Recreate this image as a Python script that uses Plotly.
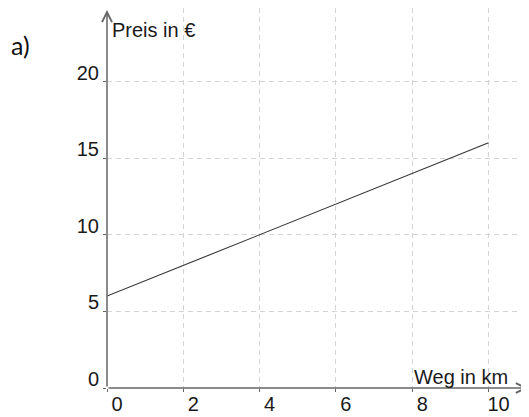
import plotly.graph_objects as go

# Data
weg_km = [0, 10]
preis_eur = [6, 16]
x_ticks = [0, 2, 4, 6, 8, 10]
y_ticks = [0, 5, 10, 15, 20]
x_title = "Weg in km"
y_title = "Preis in €"
panel_label = "a)"

FONT = "Liberation Sans, Arial, sans-serif"
AXIS_COL = "#666666"
GRID_COL = "#d4d4d4"

XMAX = 11.06
YMAX = 24.8

# page body has an 8px margin -> figure is 8px smaller than the window
W, H = 521, 409
ML, MR, MT, MB = 99, 0, 0, 29
PW, PH = W - ML - MR, H - MT - MB

fig = go.Figure()
fig.add_trace(go.Scatter(
    x=weg_km, y=preis_eur, mode="lines",
    line=dict(color="#333333", width=1.1),
    hoverinfo="skip", showlegend=False,
))

fig.update_layout(
    width=W, height=H,
    margin=dict(l=ML, r=MR, t=MT, b=MB, pad=0),
    paper_bgcolor="white", plot_bgcolor="white",
    font=dict(family=FONT, size=20, color="#1a1a1a"),
    xaxis=dict(
        range=[0, XMAX], tickvals=x_ticks, ticktext=[str(v) for v in x_ticks],
        showgrid=True, gridcolor=GRID_COL, griddash="5px,4px", gridwidth=1,
        zeroline=False, showline=False,
        ticks="outside", ticklen=3, tickcolor=AXIS_COL, tickwidth=1,
        ticklabelshift=10, ticklabelstandoff=-5,
        tickfont=dict(family=FONT, size=20, color="#1a1a1a"),
        fixedrange=True,
    ),
    yaxis=dict(
        range=[0, YMAX], tickvals=y_ticks, ticktext=[str(v) for v in y_ticks],
        showgrid=True, gridcolor=GRID_COL, griddash="5px,4px", gridwidth=1,
        zeroline=False, showline=False,
        ticks="outside", ticklen=3, tickcolor=AXIS_COL, tickwidth=1,
        ticklabelshift=-9, ticklabelstandoff=0,
        tickfont=dict(family=FONT, size=20, color="#1a1a1a"),
        fixedrange=True,
    ),
)

# Axis lines with open arrowheads
fig.add_annotation(x=XMAX - 0.03, y=0, ax=0, ay=0, xref="x", yref="y", axref="x", ayref="y",
                   showarrow=True, arrowhead=5, arrowsize=1.3, arrowwidth=1.5,
                   arrowcolor=AXIS_COL, text="", standoff=0)
fig.add_annotation(x=0, y=YMAX - 0.13, ax=0, ay=0, xref="x", yref="y", axref="x", ayref="y",
                   showarrow=True, arrowhead=5, arrowsize=1.3, arrowwidth=1.5,
                   arrowcolor=AXIS_COL, text="", standoff=0)

# Axis titles
fig.add_annotation(x=0, y=YMAX - 1.45, xref="x", yref="y", text=y_title, showarrow=False,
                   xanchor="left", yanchor="middle", xshift=3,
                   font=dict(family=FONT, size=20, color="#1a1a1a"))
fig.add_annotation(x=10.57, y=0, xref="x", yref="y", text=x_title, showarrow=False,
                   xanchor="right", yanchor="bottom", yshift=-2,
                   font=dict(family=FONT, size=20, color="#1a1a1a"))

# Panel label (window position ~ x=10, y=46)
fig.add_annotation(x=(9 - 8 - ML) / PW, y=(H - MB - (45 - 8)) / PH,
                   xref="paper", yref="paper", text=panel_label, showarrow=False,
                   xanchor="left", yanchor="middle",
                   font=dict(family="Lato, Open Sans, sans-serif", size=25, color="#111111"))

fig.write_html("out.html")
